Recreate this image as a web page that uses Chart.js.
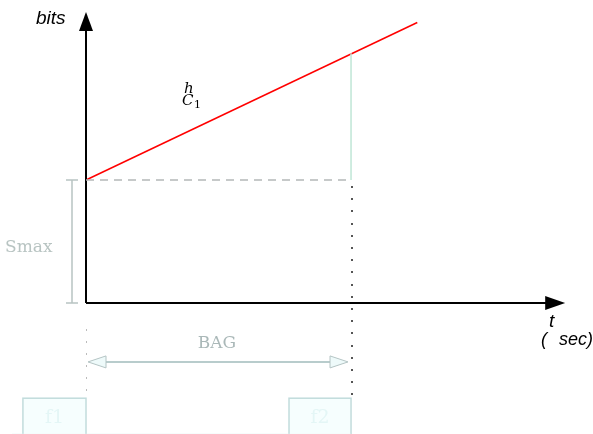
<!DOCTYPE html>
<html>
<head>
<meta charset="utf-8">
<script src="https://cdn.jsdelivr.net/npm/chart.js@4.4.1/dist/chart.umd.min.js"></script>
<style>
  html, body { margin: 0; padding: 0; background: #fff; }
  canvas { display: block; }
</style>
</head>
<body>
<canvas id="bagChart" width="593" height="434"></canvas>
<script>
// time in units of BAG, bits in units of Smax
const bagStart = 0;
const bagEnd = 1;
const sMax = 1;
const tMax = 1.808;     // x axis arrow tip
const bitsMax = 2.366;  // y axis arrow tip

// token bucket line  h*C1
const rateT = [0, 1.25];
const rateBits = [1.0, 2.28];

// light vertical drop at end of BAG
const dropT = [1, 1];
const dropBits = [1.0, 2.03];

// frame boxes below the axis
const frameLabels = ['f1', 'f2'];
const frameStart = [-0.238, 0.766];
const frameEnd = [0, 1];
const frameTop = -0.774;
const frameBottom = -1.06;

const bagArrowY = -0.479;

const ctx = document.getElementById('bagChart').getContext('2d');

function pts(xs, ys) {
    return xs.map((x, i) => ({ x: x, y: ys[i] }));
}

// Arrow heads, brackets, dotted lines and labels
const decorPlugin = {
    id: 'decor',
    afterDatasetsDraw(chart) {
        const c = chart.ctx;
        const xs = chart.scales.x;
        const ys = chart.scales.y;
        const X = v => xs.getPixelForValue(v);
        const Y = v => ys.getPixelForValue(v);

        c.save();

        // axis arrow heads
        c.fillStyle = '#000';
        c.beginPath();
        c.moveTo(X(0), Y(bitsMax));
        c.lineTo(X(0) - 7, Y(bitsMax) + 19);
        c.lineTo(X(0) + 7, Y(bitsMax) + 19);
        c.closePath();
        c.fill();
        c.beginPath();
        c.moveTo(X(tMax), Y(0));
        c.lineTo(X(tMax) - 20, Y(0) - 7);
        c.lineTo(X(tMax) - 20, Y(0) + 7);
        c.closePath();
        c.fill();

        // Smax bracket
        const bx = X(0) - 14;
        c.strokeStyle = '#b8c4c2';
        c.lineWidth = 1.5;
        c.beginPath();
        c.moveTo(bx, Y(sMax)); c.lineTo(bx, Y(0));
        c.moveTo(bx - 6, Y(sMax)); c.lineTo(bx + 6, Y(sMax));
        c.moveTo(bx - 6, Y(0)); c.lineTo(bx + 6, Y(0));
        c.stroke();

        // dotted vertical lines
        c.fillStyle = '#555';
        for (let py = Y(sMax) + 6; py < Y(frameTop) - 2; py += 12.2) {
            c.fillRect(Math.round(X(bagEnd)), Math.round(py), 2, 2);
        }
        c.fillStyle = '#bbb';
        for (let py = Y(0) + 26; py < Y(frameTop) - 2; py += 12) {
            c.fillRect(Math.round(X(bagStart)), Math.round(py), 1, 2);
        }

        // BAG arrow heads
        const ay = Y(bagArrowY);
        c.fillStyle = '#eefafa';
        c.strokeStyle = '#b4c4c4';
        c.lineWidth = 1;
        [[X(bagStart) + 2, 1], [X(bagEnd) - 3, -1]].forEach(([tx, d]) => {
            c.beginPath();
            c.moveTo(tx, ay);
            c.lineTo(tx + d * 18, ay - 6);
            c.lineTo(tx + d * 18, ay + 6);
            c.closePath();
            c.fill();
            c.stroke();
        });

        // frame boxes
        c.strokeStyle = '#c2dcdc';
        c.lineWidth = 1.5;
        frameLabels.forEach((lab, i) => {
            const x0 = X(frameStart[i]), x1 = X(frameEnd[i]);
            const y0 = Y(frameTop), y1 = Y(frameBottom);
            c.fillStyle = '#f6fefe';
            c.fillRect(x0, y0, x1 - x0, y1 - y0);
            c.strokeRect(x0, y0, x1 - x0, y1 - y0 + 4);
            c.fillStyle = '#e4f6f6';
            c.font = '19px "DejaVu Serif"';
            c.textAlign = 'center';
            c.textBaseline = 'middle';
            c.fillText(lab, (x0 + x1) / 2, (y0 + y1) / 2 + 2);
        });
        c.strokeStyle = '#e0f4f4';
        c.beginPath();
        c.moveTo(12, Y(frameBottom) + 1);
        c.lineTo(X(bagEnd), Y(frameBottom) + 1);
        c.stroke();

        // labels
        c.textBaseline = 'alphabetic';
        c.fillStyle = '#000';
        c.font = 'italic 19px "Liberation Sans"';
        c.textAlign = 'left';
        c.fillText('bits', 36, 24);
        c.fillText('t', 549, 327);
        c.font = 'italic 18px "Liberation Sans"';
        c.fillText('(', 541, 345);
        c.fillText('sec)', 559, 345);

        c.font = 'italic 15px "DejaVu Serif"';
        c.fillText('h', 184, 93);
        c.fillText('C', 182, 105);
        c.font = '11px "DejaVu Serif"';
        c.fillText('1', 194, 108);

        c.fillStyle = '#b8c4c2';
        c.font = '17px "DejaVu Serif"';
        c.fillText('Smax', 5, 252);
        c.fillStyle = '#aab8b8';
        c.textAlign = 'center';
        c.fillText('BAG', 217, 348);

        c.restore();
    }
};

new Chart(ctx, {
    type: 'scatter',
    data: {
        datasets: [{
            label: 'dashed Smax',
            data: pts([bagStart, bagEnd], [sMax, sMax]),
            showLine: true,
            borderColor: '#b4b8b8',
            borderWidth: 1.5,
            borderDash: [8, 6],
            pointRadius: 0
        }, {
            label: 'drop',
            data: pts(dropT, dropBits),
            showLine: true,
            borderColor: '#bfe6d6',
            borderWidth: 1.5,
            pointRadius: 0
        }, {
            label: 'BAG',
            data: pts([bagStart + 0.06, bagEnd - 0.06], [bagArrowY, bagArrowY]),
            showLine: true,
            borderColor: '#b8cccc',
            borderWidth: 2,
            pointRadius: 0
        }, {
            label: 'x axis',
            data: pts([0, tMax - 0.05], [0, 0]),
            showLine: true,
            borderColor: '#000',
            borderWidth: 2,
            pointRadius: 0
        }, {
            label: 'y axis',
            data: pts([0, 0], [0, bitsMax - 0.1]),
            showLine: true,
            borderColor: '#000',
            borderWidth: 2,
            pointRadius: 0
        }, {
            label: 'Smax bits',
            data: pts([0, 0], [0, sMax]),
            showLine: true,
            borderColor: '#2e5a2e',
            borderWidth: 2,
            pointRadius: 0
        }, {
            label: 'h C1',
            data: pts(rateT, rateBits),
            showLine: true,
            borderColor: '#ff0000',
            borderWidth: 1.5,
            pointRadius: 0
        }]
    },
    options: {
        responsive: false,
        animation: false,
        layout: { padding: 0 },
        plugins: {
            legend: { display: false },
            tooltip: { enabled: false }
        },
        scales: {
            x: { type: 'linear', display: false, min: -0.3245, max: 1.913 },
            y: { type: 'linear', display: false, min: -1.065, max: 2.463 }
        }
    },
    plugins: [decorPlugin]
});
</script>
</body>
</html>
